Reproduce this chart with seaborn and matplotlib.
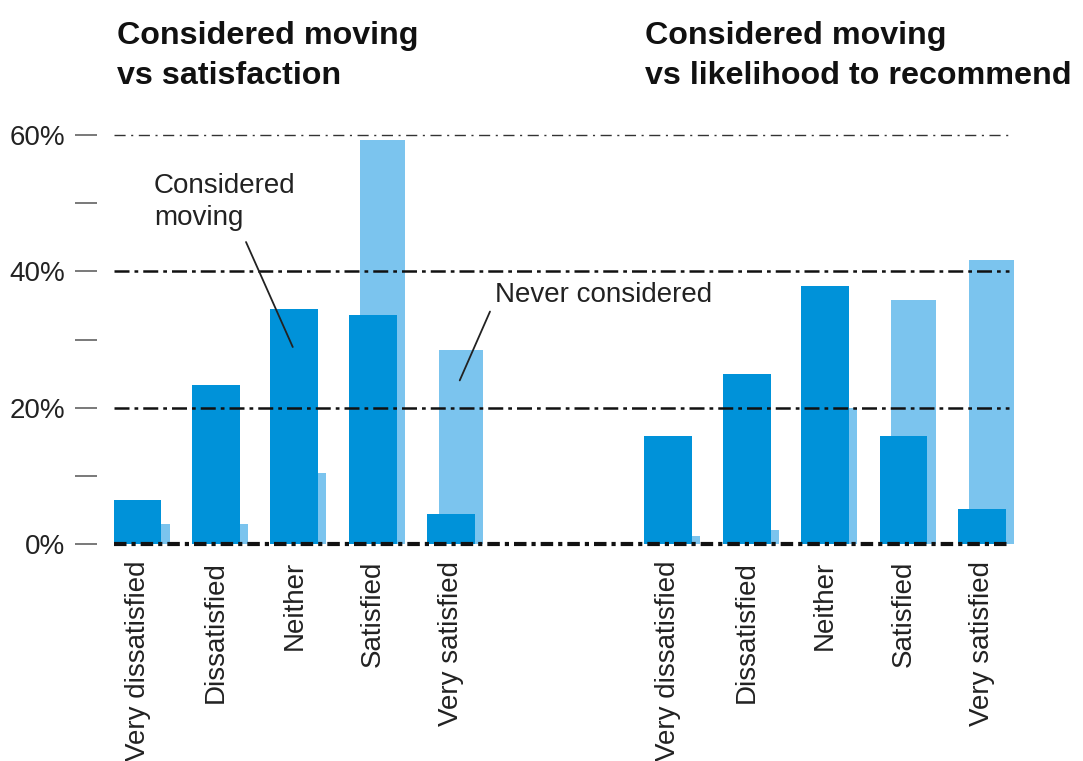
import numpy as np
import pandas as pd
import matplotlib
matplotlib.use("Agg")
import matplotlib.pyplot as plt
import seaborn as sns

# Survey shares (%) by response category
categories = ["Very dissatisfied", "Dissatisfied", "Neither", "Satisfied", "Very satisfied"]
considered_satisfaction = [6.5, 23.3, 34.5, 33.6, 4.4]
never_satisfaction = [2.9, 2.9, 10.4, 59.2, 28.4]
considered_recommend = [15.9, 25.0, 37.8, 15.9, 5.1]
never_recommend = [1.2, 2.1, 20.0, 35.8, 41.7]

titles = ["Considered moving\nvs satisfaction",
          "Considered moving\nvs likelihood to recommend"]
y_ticks = [0, 20, 40, 60]
y_tick_labels = ["0%", "20%", "40%", "60%"]

DARK = "#0092d9"
LIGHT = "#7bc4ee"
INK = "#222222"

sns.set_theme(style="white")
plt.rcParams["font.family"] = ["Liberation Sans", "DejaVu Sans"]

# Two groups of five slots on one shared numeric axis
left_pos = np.arange(5, dtype=float)
right_pos = left_pos + 6.77
positions = np.concatenate([left_pos, right_pos])
light_shift = 0.125

df = pd.DataFrame({
    "pos": positions,
    "label": categories + categories,
    "considered": considered_satisfaction + considered_recommend,
    "never": never_satisfaction + never_recommend,
})
df["pos_never"] = (df["pos"] + light_shift).round(3)

fig = plt.figure(figsize=(10.83, 7.61), dpi=100)
ax = fig.add_axes([114 / 1083, 217 / 761, 900 / 1083, 409 / 761])

sns.barplot(data=df, x="pos_never", y="never", native_scale=True, color=LIGHT,
            saturation=1, width=0.57, errorbar=None, linewidth=0, ax=ax, zorder=1)
sns.barplot(data=df, x="pos", y="considered", native_scale=True, color=DARK,
            saturation=1, width=0.61, errorbar=None, linewidth=0, ax=ax, zorder=2)

ax.set_xlim(-0.3, 11.18)
ax.set_ylim(0, 60)
ax.set_xlabel("")
ax.set_ylabel("")
for s in ax.spines.values():
    s.set_visible(False)

# Dash-dot reference lines drawn over the bars
x0, x1 = -0.3, 11.12
for yv in [20, 40]:
    ax.hlines(yv, x0, x1, colors="#111111", linewidth=1.8,
              linestyles=(0, (6, 2, 1.5, 2)), zorder=5)
ax.hlines(60, x0, x1, colors="#333333", linewidth=1.0,
          linestyles=(0, (8, 4, 1.5, 4)), zorder=5, clip_on=False)
ax.hlines(0, x0, x1, colors="#111111", linewidth=3.0,
          linestyles=(0, (3, 1.2, 1, 1.2)), zorder=5, clip_on=False)

# Y axis: ticks detached from the plot area
ax.spines["left"].set_position(("outward", 12.2))
ax.set_yticks(y_ticks)
ax.set_yticklabels(y_tick_labels)
ax.set_yticks([10, 30, 50], minor=True)
ax.tick_params(axis="y", which="both", left=True, direction="out", length=15.8,
               width=1.1, color="#555555", pad=7, labelsize=20, labelcolor=INK)

# X axis: rotated category labels under the dark bars
ax.set_xticks(positions)
ax.set_xticklabels(df["label"], rotation=90, fontsize=20, color=INK)
ax.tick_params(axis="x", bottom=False, length=0, pad=12)
ax.grid(False)

# Titles
fig.text(117 / 1083, 1 - 21 / 761, titles[0], ha="left", va="top", fontsize=23.2,
         fontweight="bold", color="#111111", linespacing=1.45)
fig.text(645 / 1083, 1 - 21 / 761, titles[1], ha="left", va="top", fontsize=23.2,
         fontweight="bold", color="#111111", linespacing=1.45)

# Series callouts
ax.annotate("Considered\nmoving", xy=(1.98, 28.9), xytext=(0.21, 54.4),
            ha="left", va="top", fontsize=20, color=INK, linespacing=1.3,
            zorder=6)
ax.annotate("", xy=(1.98, 28.9), xytext=(1.384, 44.3),
            arrowprops=dict(arrowstyle="-", color=INK, lw=1.3,
                            shrinkA=0, shrinkB=0), zorder=6)
ax.annotate("Never considered", xy=(4.11, 24.0), xytext=(4.56, 38.4),
            ha="left", va="top", fontsize=20, color=INK, zorder=6)
ax.annotate("", xy=(4.11, 24.0), xytext=(4.496, 34.1),
            arrowprops=dict(arrowstyle="-", color=INK, lw=1.3,
                            shrinkA=0, shrinkB=0), zorder=6)

fig.savefig("out.png", dpi=100)
